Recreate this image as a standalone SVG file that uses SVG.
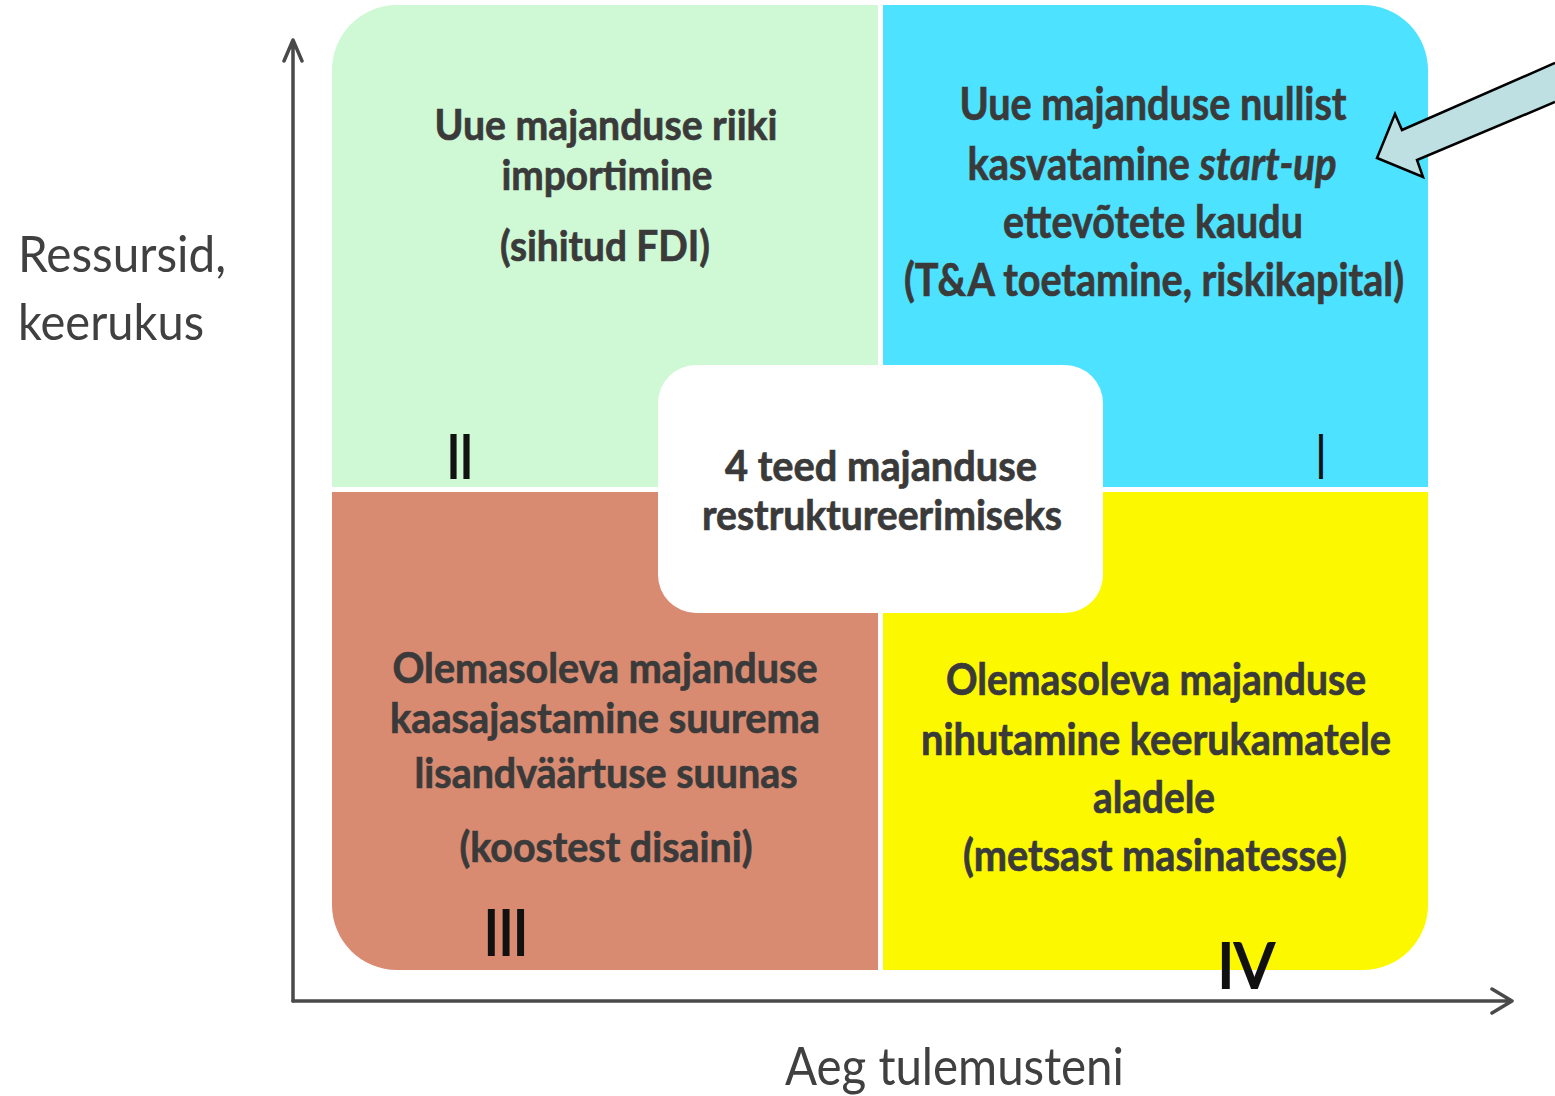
<svg xmlns="http://www.w3.org/2000/svg" width="1555" height="1096" viewBox="0 0 1555 1096">
<style>
.q{font-family:Lato,"Open Sans",sans-serif;font-weight:700;fill:#3a3a3a;stroke:#3a3a3a;stroke-width:0.7;text-anchor:middle}
.ax{font-family:Lato,"Open Sans",sans-serif;font-weight:400;fill:#404040}
.rn{font-family:Lato,"Open Sans",sans-serif;font-weight:400;fill:#111;stroke:#111;stroke-width:2.2;text-anchor:middle}
.axis{stroke:#4a4a4a;stroke-width:3.5;fill:none;stroke-linecap:round;stroke-linejoin:round}
</style>
<rect width="1555" height="1096" fill="#fff"/>
<g id="q2">
<path d="M332,487 V70 A65,65 0 0 1 397,5 H878 V487 Z" fill="#CFF8D5"/>
<text class="q" font-size="42"><tspan x="606" y="140" textLength="343" lengthAdjust="spacingAndGlyphs">Uue majanduse riiki</tspan><tspan x="607" y="190" textLength="211" lengthAdjust="spacingAndGlyphs">importimine</tspan><tspan x="605" y="261" textLength="210" lengthAdjust="spacingAndGlyphs">(sihitud FDI)</tspan></text>
<text class="rn" x="460" y="478" font-size="60" textLength="26" lengthAdjust="spacingAndGlyphs">II</text>
</g>
<g id="q1">
<path d="M883,5 H1363 A65,65 0 0 1 1428,70 V487 H883 Z" fill="#4DE2FF"/>
<text class="q" font-size="46"><tspan x="1153" y="120" textLength="387" lengthAdjust="spacingAndGlyphs">Uue majanduse nullist</tspan></text>
<text class="q" font-size="46" transform="translate(1152,180) scale(0.87,1)" x="0" y="0">kasvatamine <tspan font-style="italic">start-up</tspan></text>
<text class="q" font-size="46"><tspan x="1153" y="238" textLength="300" lengthAdjust="spacingAndGlyphs">ettevõtete kaudu</tspan><tspan x="1154" y="296" textLength="500" lengthAdjust="spacingAndGlyphs">(T&amp;A toetamine, riskikapital)</tspan></text>
<text class="rn" x="1321" y="478" font-size="60" textLength="8" lengthAdjust="spacingAndGlyphs">I</text>
</g>
<g id="q3">
<path d="M332,492 H878 V970 H397 A65,65 0 0 1 332,905 Z" fill="#D98B72"/>
<text class="q" font-size="42"><tspan x="605" y="683" textLength="425" lengthAdjust="spacingAndGlyphs">Olemasoleva majanduse</tspan><tspan x="605" y="733" textLength="430" lengthAdjust="spacingAndGlyphs">kaasajastamine suurema</tspan><tspan x="606" y="788" textLength="383" lengthAdjust="spacingAndGlyphs">lisandväärtuse suunas</tspan><tspan x="606" y="862" textLength="293" lengthAdjust="spacingAndGlyphs">(koostest disaini)</tspan></text>
<text class="rn" x="506" y="955" font-size="62" textLength="44" lengthAdjust="spacingAndGlyphs">III</text>
</g>
<g id="q4">
<path d="M883,492 H1428 V905 A65,65 0 0 1 1363,970 H883 Z" fill="#FCF800"/>
<text class="q" font-size="44"><tspan x="1156" y="695" textLength="420" lengthAdjust="spacingAndGlyphs">Olemasoleva majanduse</tspan><tspan x="1156" y="755" textLength="470" lengthAdjust="spacingAndGlyphs">nihutamine keerukamatele</tspan><tspan x="1154" y="813" textLength="122" lengthAdjust="spacingAndGlyphs">aladele</tspan><tspan x="1155" y="871" textLength="384" lengthAdjust="spacingAndGlyphs">(metsast masinatesse)</tspan></text>
<text class="rn" x="1246" y="988" font-size="62" textLength="57" lengthAdjust="spacingAndGlyphs">IV</text>
</g>
<g id="center">
<rect x="658" y="365" width="445" height="248" rx="38" fill="#fff"/>
<text class="q" font-size="42"><tspan x="881" y="481" textLength="312" lengthAdjust="spacingAndGlyphs">4 teed majanduse</tspan><tspan x="882" y="530" textLength="360" lengthAdjust="spacingAndGlyphs">restruktureerimiseks</tspan></text>
</g>
<g id="connectors">
<path class="axis" d="M293,1001 V40 M284,61 L293,40 L302,61"/>
<path class="axis" d="M293,1001 H1512 M1492,989 L1512,1001 L1492,1013"/>
<path d="M1555,63 L1402,130 L1395,114 L1377,158 L1423,177 L1417,160 L1555,102" fill="#BEE0E3" stroke="#000" stroke-width="2.5" stroke-linejoin="miter"/>
</g>
<g id="labels">
<text class="ax" x="18" y="272" font-size="50" textLength="208" lengthAdjust="spacingAndGlyphs">Ressursid,</text>
<text class="ax" x="18" y="340" font-size="50" textLength="186" lengthAdjust="spacingAndGlyphs">keerukus</text>
<text class="ax" x="785" y="1085" font-size="52" textLength="339" lengthAdjust="spacingAndGlyphs">Aeg tulemusteni</text>
</g>
</svg>
